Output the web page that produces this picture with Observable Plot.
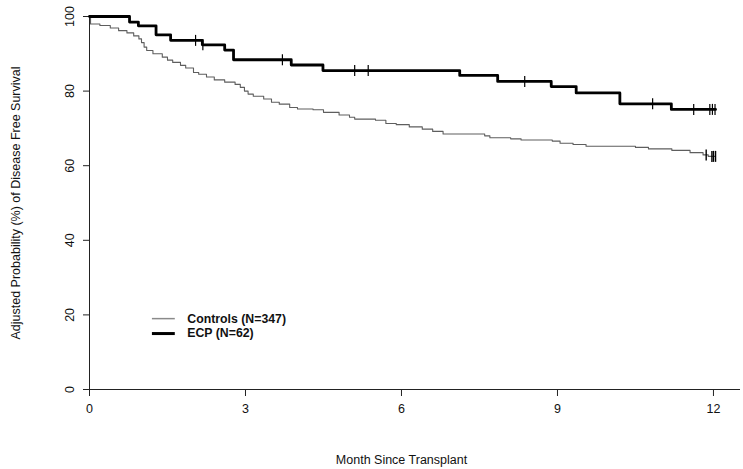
<!DOCTYPE html>
<html><head><meta charset="utf-8">
<script src="https://cdn.jsdelivr.net/npm/d3@7"></script>
<script src="https://cdn.jsdelivr.net/npm/@observablehq/plot@0.6"></script>
<style>
html,body{margin:0;padding:0;background:#fff;}
#chart{width:743px;height:469px;}
</style></head><body><div id="chart"></div>
<script>
// ---- data ----
const xTicks = [0, 3, 6, 9, 12];
const yTicks = [0, 20, 40, 60, 80, 100];
const seriesNames = ["Controls (N=347)", "ECP (N=62)"];
const xTitle = "Month Since Transplant";
const yTitle = "Adjusted Probability (%) of Disease Free Survival";

const controlsTime = [0, 0.02, 0.2, 0.4, 0.56, 0.72, 0.85, 0.95, 1.0, 1.05, 1.1, 1.22, 1.4, 1.5, 1.6, 1.75, 1.85, 2.0, 2.1, 2.25, 2.4, 2.6, 2.8, 2.9, 2.98, 3.05, 3.15, 3.35, 3.5, 3.65, 3.85, 4.0, 4.3, 4.5, 4.8, 5.0, 5.1, 5.5, 5.7, 5.9, 6.15, 6.4, 6.6, 6.8, 7.6, 7.7, 8.1, 8.3, 8.9, 9.05, 9.3, 9.55, 10.5, 10.75, 11.2, 11.55, 11.8, 11.9, 12.04];
const controlsSurv = [100, 98.0, 97.6, 96.9, 96.2, 95.6, 94.8, 94.0, 93.0, 91.8, 90.9, 90.0, 89.1, 88.3, 87.7, 86.9, 86.2, 85.0, 84.5, 83.8, 83.0, 82.4, 81.8, 81.0, 80.0, 79.2, 78.6, 77.9, 77.0, 76.5, 75.6, 75.2, 75.0, 74.3, 73.6, 73.0, 72.5, 72.2, 71.3, 71.0, 70.4, 69.8, 69.2, 68.5, 68.0, 67.5, 67.2, 66.9, 66.6, 66.0, 65.7, 65.2, 64.9, 64.5, 64.1, 63.5, 62.9, 62.5, 62.5];
const controlsCensor = [11.86, 11.97, 12.0, 12.04];

const ecpTime = [0, 0.77, 0.94, 1.28, 1.56, 2.17, 2.6, 2.77, 3.88, 4.49, 7.12, 7.85, 8.88, 9.36, 10.2, 11.19, 12.04];
const ecpSurv = [100, 98.5, 97.5, 95.1, 93.6, 92.4, 91.0, 88.4, 87.0, 85.5, 84.2, 82.6, 81.2, 79.5, 76.6, 75.1, 75.1];
const ecpCensor = [2.04, 2.18, 3.71, 5.10, 5.36, 8.37, 10.83, 11.62, 11.93, 11.98, 12.03];

// ---- derived tables ----
const toRows = (t, s) => t.map((x, i) => ({t: x, s: s[i]}));
const stepAt = (t, s, x) => { let v = s[0]; for (let i = 0; i < t.length; i++) if (t[i] <= x) v = s[i]; return v; };
const controls = toRows(controlsTime, controlsSurv);
const ecp = toRows(ecpTime, ecpSurv);
const controlsCens = controlsCensor.map(x => ({t: x, s: stepAt(controlsTime, controlsSurv, x)}));
const ecpCens = ecpCensor.map(x => ({t: x, s: stepAt(ecpTime, ecpSurv, x)}));

const vbar = {draw(ctx, size) { const h = Math.sqrt(size / Math.PI); ctx.moveTo(0, -h); ctx.lineTo(0, h); }};

const FONT = "'Liberation Sans', Arial, Helvetica, sans-serif";
// legend layout (inside the plot, in data units)
const legend = [
  {name: seriesNames[0], stroke: "#8a8a8a", w: 1.5, ly: 19.0},
  {name: seriesNames[1], stroke: "#000", w: 3, ly: 15.0}
];

const chart = Plot.plot({
  width: 743, height: 469,
  marginLeft: 89, marginRight: 3, marginTop: 16, marginBottom: 80,
  style: {fontFamily: FONT, background: "#fff", color: "#111"},
  x: {domain: [0, 12.52]},
  y: {domain: [0, 100]},
  marks: [
    Plot.axisX({ticks: xTicks, tickSize: 7, tickPadding: 8, fontSize: 12.5, label: null, stroke: "#222"}),
    Plot.axisY({ticks: yTicks, tickSize: 6, tickRotate: -90, tickPadding: 10, fontSize: 12.5, label: null, stroke: "#222"}),
    Plot.ruleY([0], {stroke: "#222", strokeWidth: 1}),
    Plot.ruleX([0], {stroke: "#222", strokeWidth: 1}),
    Plot.line(controls, {x: "t", y: "s", curve: "step-after", stroke: "#5e5e5e", strokeWidth: 1.1}),
    Plot.line(ecp, {x: "t", y: "s", curve: "step-after", stroke: "#000", strokeWidth: 2.8}),
    Plot.dot(controlsCens, {x: "t", y: "s", symbol: vbar, r: 5.5, stroke: "#000", strokeWidth: 1.4, fill: "none"}),
    Plot.dot(ecpCens, {x: "t", y: "s", symbol: vbar, r: 5.5, stroke: "#000", strokeWidth: 1.2, fill: "none"}),
    // legend
    Plot.ruleY(legend, {y: "ly", x1: 1.21, x2: 1.65, stroke: d => d.stroke, strokeWidth: "w"}),
    Plot.text(legend, {x: 1.88, y: "ly", text: "name", textAnchor: "start", lineAnchor: "middle", fontWeight: "bold", fontSize: 12.3, fill: "#111"}),
    // titles
    Plot.text([xTitle], {frameAnchor: "bottom", dx: -13.5, dy: 70, lineAnchor: "middle", textAnchor: "middle", text: d => d, fontSize: 12.5, fill: "#111"}),
    Plot.text([yTitle], {frameAnchor: "left", dx: -74, rotate: -90, textAnchor: "middle", lineAnchor: "middle", text: d => d, fontSize: 12.5, fill: "#111"})
  ]
});
document.getElementById("chart").appendChild(chart);
</script></body></html>
